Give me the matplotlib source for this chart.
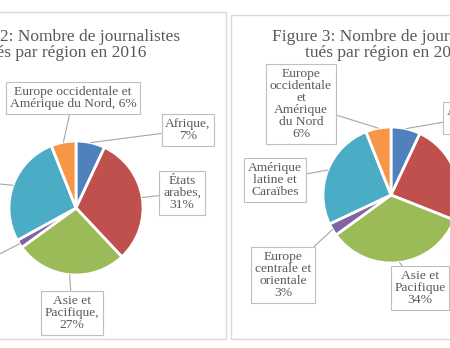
import matplotlib
matplotlib.use('Agg')
import matplotlib.pyplot as plt
import numpy as np
from matplotlib.patches import Rectangle

# ---- data ----
regions = ["Afrique", "États arabes", "Asie et Pacifique",
           "Europe centrale et orientale", "Amérique latine et Caraïbes",
           "Europe occidentale et Amérique du Nord"]
values_2016 = [7, 31, 27, 2, 27, 6]
labels_2016 = ["Afrique,\n7%", "États\narabes,\n31%", "Asie et\nPacifique,\n27%",
               "Europe centrale et\norientale, 2%", "Amérique latine et\nCaraïbes, 27%",
               "Europe occidentale et\nAmérique du Nord, 6%"]
values_2017 = [7, 24, 34, 3, 26, 6]
labels_2017 = ["Afrique\n7%", "États\narabes\n24%", "Asie et\nPacifique\n34%",
               "Europe\ncentrale et\norientale\n3%", "Amérique\nlatine et\nCaraïbes",
               "Europe\noccidentale\net\nAmérique\ndu Nord\n6%"]
title_2016 = "Figure 2: Nombre de journalistes\ntués par région en 2016"
title_2017 = "Figure 3: Nombre de journalistes\ntués par région en 2017"
colors = ['#4f81bd', '#c0504d', '#9bbb59', '#8064a2', '#4bacc6', '#f79646']

W, H = 450, 348
FONT = 'Liberation Serif'
TXT = '#595959'

fig = plt.figure(figsize=(4.5, 3.48), dpi=100)
fig.patch.set_facecolor('white')
ax = fig.add_axes([0, 0, 1, 1])


def Y(y):
    return H - y


def draw_chart(values, labels, title, center, radius, title_pos, label_pos, frame):
    x0, y0, x1, y1 = frame
    ax.add_patch(Rectangle((x0, Y(y1)), x1 - x0, y1 - y0, fill=False,
                           edgecolor='#d9d9d9', linewidth=1.0, zorder=0))
    cx, cy = center
    ax.pie(values, colors=colors, startangle=90, counterclock=False,
           center=(cx, Y(cy)), radius=radius,
           wedgeprops=dict(edgecolor='white', linewidth=2.0))
    ax.text(title_pos[0], Y(title_pos[1]), title, ha='center', va='center',
            multialignment='center', fontsize=12.5, color=TXT, family=FONT,
            linespacing=1.05)
    total = float(sum(values))
    cum = 0.0
    for v, lab, pos in zip(values, labels, label_pos):
        mid = cum + v / 2.0
        cum += v
        ang = np.deg2rad(90 - 360.0 * mid / total)
        px = cx + radius * np.cos(ang)
        py = Y(cy) + radius * np.sin(ang)
        ax.annotate(lab, xy=(px, py), xytext=(pos[0], Y(pos[1])),
                    ha='center', va='center', multialignment='center',
                    fontsize=9.7, color=TXT, family=FONT, linespacing=1.02,
                    bbox=dict(boxstyle='square,pad=0.28', facecolor='white',
                              edgecolor='#bfbfbf', linewidth=0.8),
                    arrowprops=dict(arrowstyle='-', color='#a6a6a6', lw=0.8,
                                    shrinkA=0, shrinkB=0),
                    annotation_clip=False)


draw_chart(values_2016, labels_2016, title_2016, center=(76, 208), radius=67,
           title_pos=(65, 45),
           label_pos=[(188, 130), (182, 193), (72, 313), (-62, 285),
                      (-62, 178), (73, 98)],
           frame=(-10, 12, 226, 339))
draw_chart(values_2017, labels_2017, title_2017, center=(391, 195), radius=68,
           title_pos=(387, 45),
           label_pos=[(468, 118), (472, 162), (420, 288), (283, 275),
                      (275, 180), (301, 104)],
           frame=(231, 15, 470, 339))

ax.set_xlim(0, W)
ax.set_ylim(0, H)
ax.set_aspect('auto')
ax.axis('off')

fig.savefig('out.png', dpi=100, facecolor='white')
